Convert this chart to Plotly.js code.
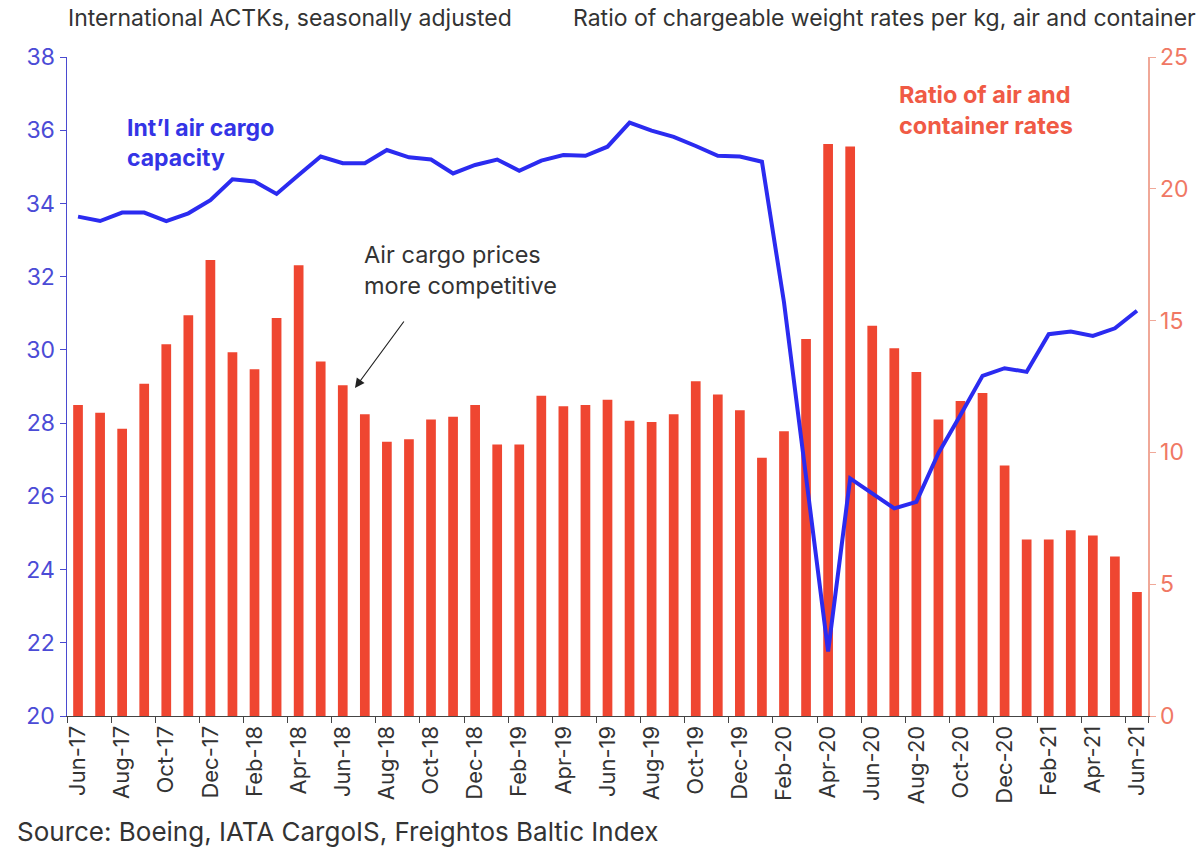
<!DOCTYPE html>
<html><head><meta charset="utf-8">
<script src="https://cdn.plot.ly/plotly-3.0.1.min.js"></script>
<style>html,body{margin:0;padding:0;background:#fff}</style>
</head><body><div id="chart" style="width:1202px;height:847px"></div>
<script>
const months = ["Jun-17","Jul-17","Aug-17","Sep-17","Oct-17","Nov-17","Dec-17",
  "Jan-18","Feb-18","Mar-18","Apr-18","May-18","Jun-18","Jul-18","Aug-18","Sep-18","Oct-18","Nov-18","Dec-18",
  "Jan-19","Feb-19","Mar-19","Apr-19","May-19","Jun-19","Jul-19","Aug-19","Sep-19","Oct-19","Nov-19","Dec-19",
  "Jan-20","Feb-20","Mar-20","Apr-20","May-20","Jun-20","Jul-20","Aug-20","Sep-20","Oct-20","Nov-20","Dec-20",
  "Jan-21","Feb-21","Mar-21","Apr-21","May-21","Jun-21"];

// Ratio of air and container rates (right axis)
const ratioAirContainer = [11.8,11.5,10.9,12.6,14.1,15.2,17.3,
  13.8,13.15,15.1,17.1,13.45,12.55,11.45,10.4,10.5,11.25,11.35,11.8,
  10.3,10.3,12.15,11.75,11.8,12.0,11.2,11.15,11.45,12.7,12.2,11.6,
  9.8,10.8,14.3,21.7,21.6,14.8,13.95,13.05,11.25,11.95,12.25,9.5,
  6.7,6.7,7.05,6.85,6.05,4.7];

// Int'l air cargo capacity, ACTKs (left axis)
const airCargoCapacity = [33.64,33.52,33.75,33.75,33.52,33.73,34.09,
  34.66,34.6,34.26,34.78,35.28,35.1,35.1,35.46,35.26,35.2,34.82,35.05,
  35.2,34.89,35.17,35.32,35.3,35.55,36.21,35.99,35.82,35.57,35.3,35.28,
  35.14,31.3,26.5,21.76,26.49,26.08,25.67,25.85,27.18,28.22,29.29,29.5,
  29.4,30.43,30.5,30.38,30.59,31.07];

const tickLabels = months.filter((m, i) => i % 2 === 0);

const FONT = "Inter, 'Liberation Sans', Arial, sans-serif";
const BLUE = '#2b2bf0';
const RED = '#ef4631';
const DARK = '#333333';

const bars = {
  type: 'bar', x: months, y: ratioAirContainer,
  marker: {color: RED}, xaxis: 'x', yaxis: 'y',
  hoverinfo: 'x+y', showlegend: false
};
const line = {
  type: 'scatter', mode: 'lines', x: months, y: airCargoCapacity,
  line: {color: BLUE, width: 4}, xaxis: 'x', yaxis: 'y2',
  showlegend: false
};

const layout = {
  width: 1202, height: 847,
  margin: {l: 67, r: 54, t: 57, b: 131},
  paper_bgcolor: '#ffffff', plot_bgcolor: '#ffffff',
  font: {family: FONT, color: DARK},
  bargap: 0.56,
  showlegend: false,
  xaxis: {
    type: 'category', categoryorder: 'array', categoryarray: months,
    range: [-0.5, months.length - 0.5],
    tickmode: 'array', tickvals: tickLabels, ticktext: tickLabels,
    tickson: 'boundaries', ticks: 'outside', ticklen: 6, tickcolor: '#444',
    tickangle: -90, tickfont: {size: 22, color: DARK, family: FONT},
    showline: true, linecolor: '#444', linewidth: 1,
    showgrid: false, zeroline: false
  },
  yaxis: {
    side: 'right', range: [0, 25], tickmode: 'linear', tick0: 0, dtick: 5,
    ticks: 'outside', ticklen: 6, tickcolor: '#f0a898',
    showline: true, linecolor: '#f0a898', linewidth: 1.5,
    tickfont: {size: 23, color: '#f07864', family: FONT},
    showgrid: false, zeroline: false
  },
  yaxis2: {
    overlaying: 'y', side: 'left', range: [20, 38], tickmode: 'linear', tick0: 20, dtick: 2,
    ticks: 'outside', ticklen: 6, tickcolor: '#4a4ad0',
    showline: true, linecolor: '#4a4ad0', linewidth: 1.5,
    tickfont: {size: 23, color: '#4b4bd6', family: FONT},
    showgrid: false, zeroline: false
  },
  annotations: [
    {xref: 'paper', yref: 'paper', x: -0.001, y: 1.059, xanchor: 'left', yanchor: 'middle',
     text: 'International ACTKs, seasonally adjusted', showarrow: false,
     font: {size: 23, color: DARK, family: FONT}},
    {xref: 'paper', yref: 'paper', x: 1.046, y: 1.059, xanchor: 'right', yanchor: 'middle',
     text: 'Ratio of chargeable weight rates per kg, air and container', showarrow: false,
     font: {size: 23, color: DARK, family: FONT}},
    {xref: 'paper', yref: 'paper', x: 0.0537, y: 0.870, xanchor: 'left', yanchor: 'middle', align: 'left',
     text: "<b>Int’l air cargo<br>capacity</b>", showarrow: false,
     font: {size: 23, color: '#3434e6', family: FONT}},
    {xref: 'paper', yref: 'paper', x: 0.768, y: 0.92, xanchor: 'left', yanchor: 'middle', align: 'left',
     text: "<b>Ratio of air and<br>container rates</b>", showarrow: false,
     font: {size: 23.5, color: '#f05a45', family: FONT}},
    {xref: 'paper', yref: 'paper', x: 0.2729, y: 0.677, xanchor: 'left', yanchor: 'middle', align: 'left',
     text: 'Air cargo prices<br>more competitive', showarrow: false,
     font: {size: 23.5, color: DARK, family: FONT}},
    {xref: 'paper', yref: 'paper', x: 0.2664, y: 0.4977, text: '', showarrow: true,
     ax: 50, ay: -68, arrowhead: 2, arrowsize: 1.6, arrowwidth: 1.2, arrowcolor: '#222'},
    {xref: 'paper', yref: 'paper', x: -0.048, y: -0.176, xanchor: 'left', yanchor: 'middle',
     text: 'Source: Boeing, IATA CargoIS, Freightos Baltic Index', showarrow: false,
     font: {size: 26, color: DARK, family: FONT}}
  ]
};

Plotly.newPlot('chart', [bars, line], layout, {displayModeBar: false, staticPlot: true});
</script>
</body></html>
